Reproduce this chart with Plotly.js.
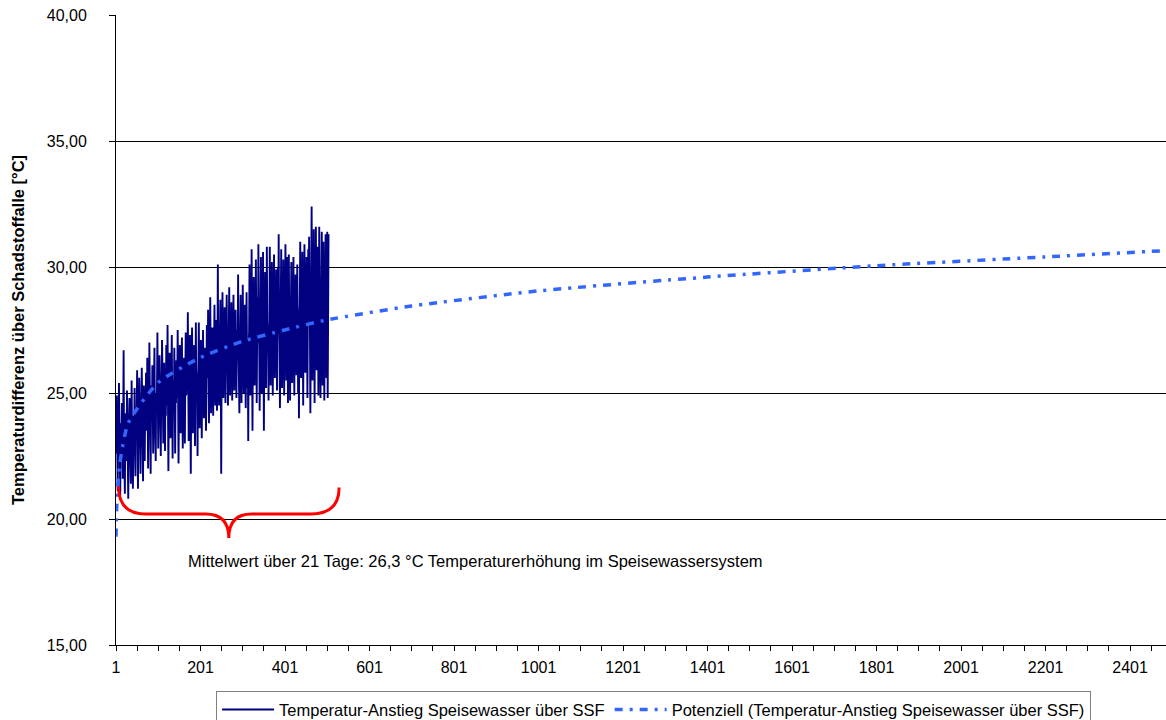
<!DOCTYPE html>
<html>
<head>
<meta charset="utf-8">
<script src="https://cdn.plot.ly/plotly-3.0.1.min.js"></script>
<style>html,body{margin:0;padding:0;background:#fff;}#chart{width:1166px;height:720px;}</style>
</head>
<body>
<div id="chart"></div>
<script>
// Hourly readings (°C), 21 days x 24 hours
var day01 = [23.2,22.6,24.9,23.0,21.1,23.4,22.8,25.4,23.1,22.5,20.9,23.3,23.8,22.7,24.6,22.9,21.6,23.5,26.7,23.2,22.4,21.0,23.6,24.2];
var day02 = [23.0,22.3,25.1,23.4,22.8,20.8,23.1,23.9,24.8,23.2,22.6,21.4,23.5,25.5,23.0,22.7,21.2,23.6,24.1,22.9,25.2,23.3,21.7,23.8];
var day03 = [23.5,24.2,25.9,23.7,21.2,24.0,23.4,25.6,24.3,23.6,21.8,24.1,24.6,26.0,23.9,23.2,21.5,24.4,25.3,23.8,22.3,24.5,23.7,25.8];
var day04 = [24.0,23.5,26.4,24.6,22.0,24.2,24.9,27.0,24.1,23.8,21.8,24.7,25.3,23.9,26.1,24.4,22.6,24.0,24.8,26.8,24.2,23.6,22.3,25.0];
var day05 = [24.3,25.1,27.4,24.7,22.8,24.5,24.0,26.5,25.0,24.2,22.5,24.9,25.4,27.1,24.6,23.9,23.0,24.8,26.2,24.4,22.7,25.2,24.1,26.9];
var day06 = [24.5,25.2,27.7,24.9,21.9,24.6,25.3,26.6,24.4,23.2,25.0,25.6,27.3,24.7,22.4,24.9,25.5,24.3,26.8,24.8,22.6,25.1,24.6,26.3];
var day07 = [24.8,25.5,27.5,25.1,22.2,24.7,25.4,26.9,24.9,23.4,25.2,25.8,27.2,24.6,22.8,25.3,25.0,26.4,24.8,23.0,25.6,27.4,24.9,25.2];
var day08 = [25.0,25.8,28.2,25.2,23.1,25.5,24.9,27.3,25.6,21.8,25.1,25.9,27.6,25.3,23.4,25.0,25.7,26.9,25.2,22.9,25.4,27.8,25.1,24.7];
var day09 = [25.3,22.5,25.6,26.0,27.8,25.4,23.6,25.7,25.2,27.1,25.5,23.2,25.9,26.2,27.5,25.3,24.0,25.8,25.1,26.8,25.6,23.5,25.4,27.7];
var day10 = [25.6,26.1,28.3,25.9,23.8,25.7,26.3,28.8,25.8,24.2,26.0,25.5,27.6,26.2,24.1,25.9,26.4,28.5,25.7,24.5,26.1,27.9,25.8,24.3];
var day11 = [26.0,30.1,26.4,25.8,24.5,26.2,26.9,28.7,26.1,21.8,26.3,26.8,29.0,26.2,24.8,26.5,26.0,28.4,26.6,24.6,26.3,27.2,28.9,26.1];
var day12 = [26.2,24.5,26.6,26.9,29.2,26.3,24.9,26.5,26.0,28.6,26.7,24.7,26.4,27.0,28.9,26.2,25.1,26.6,26.1,28.3,26.5,24.8,26.8,27.5];
var day13 = [26.4,29.7,26.8,26.1,24.2,26.7,27.2,28.9,26.5,24.6,26.9,26.3,29.3,26.6,25.0,26.8,27.1,28.5,26.4,24.4,26.9,29.0,26.6,25.2];
var day14 = [26.7,23.1,27.0,27.4,30.1,26.8,24.9,27.2,26.6,30.7,27.1,23.5,26.9,27.6,29.6,26.7,25.3,27.0,27.3,30.3,26.8,24.6,27.2,28.8];
var day15 = [27.0,30.9,27.4,26.8,24.3,27.3,27.7,30.4,27.1,25.0,27.5,26.9,30.6,27.2,23.5,27.4,27.8,29.8,27.0,25.2,27.6,30.8,27.3,26.6];
var day16 = [27.2,24.7,27.5,27.9,30.8,27.3,25.3,27.6,27.1,30.2,27.7,24.9,27.4,28.0,30.5,27.2,25.6,27.5,27.0,29.9,27.8,25.1,27.3,30.0];
var day17 = [27.4,31.3,27.8,27.1,24.4,27.7,28.1,30.7,27.5,25.2,27.9,27.3,30.3,27.6,24.9,27.8,28.2,30.9,27.4,25.5,27.7,30.4,27.9,24.6];
var day18 = [27.6,30.5,28.0,27.4,24.7,27.9,28.3,30.2,27.7,25.4,28.1,27.5,30.4,27.8,24.9,28.0,28.4,29.7,27.6,25.7,28.2,30.1,27.9,25.0];
var day19 = [27.7,24.0,28.1,28.5,31.0,27.8,25.6,28.0,27.5,30.6,28.2,24.5,27.9,28.6,30.9,27.7,25.8,28.1,27.6,30.4,28.3,24.8,28.0,30.7];
var day20 = [27.9,31.2,28.3,27.6,24.2,28.2,28.7,32.4,28.0,25.5,28.4,27.8,31.5,28.1,24.6,28.3,28.8,31.6,27.9,25.9,28.2,30.8,28.5,24.9];
var day21 = [27.8,31.6,28.2,27.5,24.8,28.1,28.6,31.4,27.9,25.3,28.3,31.0,27.7,24.7,28.0,28.5,31.3,27.6,25.6,28.4,31.4,24.8,27.9,31.3];

// Power trendline ("Potenziell")
var trendX = [1, 3, 10, 30, 100, 200, 300, 400, 500, 700, 1000, 1400, 1800, 2200, 2486];
var trendY = [19.3, 20.6, 22.2, 23.8, 25.4, 26.4, 27.05, 27.5, 27.9, 28.45, 29.05, 29.6, 30.05, 30.4, 30.65];

var xTickVals = [1, 201, 401, 601, 801, 1001, 1201, 1401, 1601, 1801, 2001, 2201, 2401];
var xTickText = ['1','201','401','601','801','1001','1201','1401','1601','1801','2001','2201','2401'];
var yTickVals = [15, 20, 25, 30, 35, 40];

var seriesName = 'Temperatur-Anstieg Speisewasser über SSF';
var trendName = 'Potenziell (Temperatur-Anstieg Speisewasser über SSF)';
var noteText = 'Mittelwert über 21 Tage: 26,3 °C Temperaturerhöhung im Speisewassersystem';

var values = [].concat(day01, day02, day03, day04, day05, day06, day07, day08, day09, day10,
  day11, day12, day13, day14, day15, day16, day17, day18, day19, day20, day21);
var xs = values.map(function(v, i){ return i + 1; });

var font = 'Liberation Sans, Arial, sans-serif';

var traces = [
  {x: xs, y: values, type: 'scatter', mode: 'lines', name: seriesName,
   line: {color: '#000080', width: 1.9}},
  {x: trendX, y: trendY, type: 'scatter', mode: 'lines', name: trendName,
   line: {color: '#3366FF', width: 3.5, dash: '8px,7px,3px,7px', shape: 'spline', smoothing: 0.6}}
];

var layout = {
  width: 1166, height: 720,
  margin: {l: 116, r: 0, t: 15, b: 75},
  paper_bgcolor: '#fff', plot_bgcolor: '#fff',
  separators: ',.',
  font: {family: font, size: 16, color: '#000'},
  showlegend: true,
  legend: {orientation: 'h', x: 0.512, xanchor: 'center', xref: 'paper',
    y: 0.04, yanchor: 'top', yref: 'container',
    bordercolor: '#808080', borderwidth: 1, bgcolor: '#fff',
    font: {family: font, size: 16.5, color: '#000'}, traceorder: 'normal', itemwidth: 52},
  xaxis: {
    range: [1, 2486], tickmode: 'array', tickvals: xTickVals, ticktext: xTickText,
    ticks: 'outside', ticklen: 5, tickcolor: '#000', tickwidth: 1,
    minor: {dtick: 50, tick0: 1, ticks: 'outside', ticklen: 5, tickcolor: '#000', tickwidth: 1, showgrid: false},
    showline: true, linecolor: '#000', linewidth: 1, showgrid: false, zeroline: false,
    tickfont: {family: font, size: 16, color: '#000'}, ticklabelstandoff: 3
  },
  yaxis: {
    range: [15, 40], tickmode: 'array', tickvals: yTickVals, tickformat: '.2f',
    ticks: 'outside', ticklen: 6, tickcolor: '#000', tickwidth: 1,
    showline: true, linecolor: '#000', linewidth: 1,
    showgrid: true, gridcolor: '#000', gridwidth: 1, zeroline: false,
    tickfont: {family: font, size: 16, color: '#000'}, ticklabelstandoff: 19,
    title: {text: '<b>Temperaturdifferenz über Schadstoffalle [°C]</b>', font: {family: font, size: 16.5, color: '#000'}, standoff: 17}
  },
  shapes: [
    {type: 'path', xref: 'x', yref: 'y', layer: 'above',
     path: 'M 7,21.3 Q 7,20.2 71,20.2 L 213,20.2 Q 268,20.2 268,19.25 Q 268,20.2 322,20.2 L 462,20.2 Q 529,20.2 529,21.25',
     line: {color: '#FF0000', width: 3}}
  ],
  annotations: [
    {xref: 'x', yref: 'y', x: 166, y: 18.33, xanchor: 'left', yanchor: 'middle', showarrow: false,
     text: noteText, font: {family: font, size: 16.5, color: '#000'}}
  ]
};

Plotly.newPlot('chart', traces, layout, {displayModeBar: false, staticPlot: true});
</script>
</body>
</html>
